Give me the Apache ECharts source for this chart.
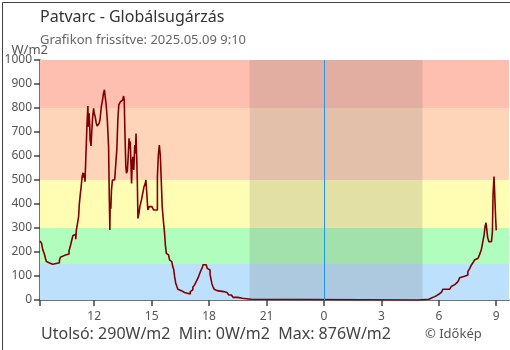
<!DOCTYPE html>
<html><head><meta charset="utf-8">
<script src="https://cdn.jsdelivr.net/npm/echarts@6/dist/echarts.min.js"></script>
<style>html,body{margin:0;padding:0;background:#fff}#c{width:510px;height:350px}</style>
</head><body><div id="c"></div><script>
const titleText = 'Patvarc - Globálsugárzás';
const subtitleText = 'Grafikon frissítve: 2025.05.09 9:10';
const unit = 'W/m2';
const times = ['09:10','09:15','09:19','09:23','09:27','09:30','09:35','09:42','09:50','09:56','10:11','10:14','10:20','10:27','10:41','10:46','10:49','10:53','10:58','11:02','11:04','11:07','11:11','11:13','11:16','11:19','11:22','11:25','11:27','11:29','11:31','11:33','11:37','11:40','11:42','11:44','11:46','11:47','11:50','11:52','11:55','11:58','12:00','12:03','12:06','12:09','12:12','12:15','12:18','12:22','12:26','12:29','12:32','12:34','12:37','12:41','12:45','12:47','12:49','12:50','12:52','12:54','12:57','13:04','13:07','13:11','13:14','13:17','13:22','13:25','13:29','13:32','13:34','13:36','13:39','13:41','13:44','13:47','13:49','13:51','13:53','13:55','13:57','13:59','14:01','14:04','14:07','14:09','14:11','14:13','14:15','14:17','14:20','14:23','14:28','14:32','14:36','14:40','14:42','14:44','14:48','14:50','14:52','14:55','14:57','15:01','15:06','15:18','15:21','15:24','15:27','15:30','15:33','15:37','15:40','15:43','15:46','15:49','15:53','15:56','15:59','16:03','16:06','16:09','16:12','16:15','16:19','16:22','16:26','16:33','16:38','16:43','17:01','17:05','17:09','17:14','17:18','17:22','17:26','17:30','17:34','17:39','17:41','17:51','17:54','17:59','18:03','18:06','18:09','18:12','18:16','18:20','18:25','18:46','18:49','18:52','18:56','19:02','19:10','19:15','19:30','19:44','20:12','04:55','05:29','05:37','05:47','05:54','06:01','06:08','06:13','06:34','06:39','06:44','06:50','06:57','07:02','07:05','07:11','07:21','07:31','07:37','07:42','07:47','07:52','07:58','08:03','08:08','08:13','08:18','08:22','08:25','08:28','08:30','08:33','08:37','08:45','08:48','08:50','08:53','08:55','08:58','09:00'];
const values = [246,236,208,195,174,160,153,149,150,155,167,178,186,192,205,229,246,268,274,253,292,315,347,396,437,472,514,530,510,528,493,567,722,808,722,778,720,669,642,697,761,799,778,764,739,725,730,735,750,805,833,861,876,850,819,750,639,444,292,403,380,458,500,507,556,632,750,813,826,833,840,850,833,708,556,528,540,611,674,632,660,569,486,569,597,542,646,611,694,597,500,340,361,389,417,444,472,486,500,458,375,378,389,396,389,382,375,514,604,646,604,500,389,326,285,229,194,188,181,167,160,153,139,128,97,72,56,45,39,35,31,25,35,42,53,62,72,83,94,108,122,136,147,142,132,125,108,86,67,56,45,39,35,37,35,31,25,21,17,11,7,3,0,3,8,14,19,25,32,37,45,47,56,64,72,75,81,93,99,104,118,132,146,155,167,174,181,190,208,243,271,306,322,299,261,243,239,285,438,514,451,344,290];
const xTickHours = [12,15,18,21,0,3,6,9];
const bandEdges = [0,150,300,500,800,1000];
const nightStart = '20:07';
const nightEnd = '05:09';
const rangeStart = '09:10';
const rangeEnd = '09:40';

const bandColors = ['#BDE0FD','#B0FDBD','#FFFDB4','#FFD5BA','#FFBFB0'];
const hm = t => { const [h, m] = t.split(':').map(Number); return h + m / 60; };
let off = -24, prev = -1;
const xs = times.map(t => { const v = hm(t); if (v < prev) off = 0; prev = v; return v + off; });
const seriesData = xs.map((x, i) => [x, values[i]]);
const xMin = hm(rangeStart) - 24, xMax = hm(rangeEnd);
const tickPos = xTickHours.map(h => h >= 9.5 ? h - 24 : h);
const last = values[values.length - 1], vmin = Math.min(...values), vmax = Math.max(...values);
const font = 'Noto Sans';

const chart = echarts.init(document.getElementById('c'), null, {renderer: 'canvas'});
chart.setOption({
  animation: false,
  backgroundColor: '#fff',
  textStyle: {fontFamily: font},
  title: {
    text: titleText, subtext: subtitleText, left: 40, top: 9, padding: 0, itemGap: 9,
    textStyle: {fontFamily: font, fontSize: 16, fontWeight: 'normal', color: '#333'},
    subtextStyle: {fontFamily: font, fontSize: 13, color: '#666'}
  },
  grid: {left: 40, right: 1, top: 60, bottom: 50, containLabel: false},
  xAxis: {
    type: 'value', min: xMin, max: xMax,
    splitLine: {show: false},
    axisLine: {onZero: false, lineStyle: {color: '#444', width: 1.5}},
    axisTick: {customValues: [xMin].concat(tickPos), length: 6, lineStyle: {color: '#444', width: 1.5}},
    axisLabel: {customValues: tickPos, margin: 11, fontSize: 12, color: '#555', fontFamily: font,
      formatter: v => String(Math.round((v + 24) % 24))}
  },
  yAxis: {
    type: 'value', min: 0, max: 1000, interval: 100,
    name: unit, nameLocation: 'end', nameGap: 3, nameMoveOverlap: false,
    nameTextStyle: {fontFamily: font, fontSize: 13, color: '#555', align: 'right', verticalAlign: 'bottom', padding: [0, -8, 0, 0]},
    splitLine: {show: false},
    axisLine: {show: true, onZero: false, lineStyle: {color: '#444', width: 1.5}},
    axisTick: {show: true, length: 6, lineStyle: {color: '#444', width: 1.5}},
    axisLabel: {fontSize: 12, color: '#555', margin: 8, fontFamily: font, formatter: v => String(v)}
  },
  series: [
    {type: 'line', data: [], z: 1, silent: true,
      markArea: {silent: true, data: bandEdges.slice(0, -1).map((b, i) => [
        {yAxis: b, itemStyle: {color: bandColors[i]}}, {yAxis: bandEdges[i + 1]}])}},
    {type: 'line', data: [], z: 2, silent: true,
      markArea: {silent: true, data: [[
        {xAxis: hm(nightStart) - 24, itemStyle: {color: 'rgba(100,100,100,0.19)'}}, {xAxis: hm(nightEnd)}]]},
      markLine: {silent: true, symbol: 'none', label: {show: false},
        lineStyle: {color: '#2196F3', width: 1, type: 'solid'}, data: [{xAxis: 0}]}},
    {type: 'line', data: seriesData, z: 3, step: 'end', showSymbol: false, symbol: 'none',
      lineStyle: {color: '#800000', width: 1.6}}
  ],
  graphic: [
    {type: 'text', left: 41, top: 326, style: {
      text: 'Utolsó: ' + last + unit + '  Min: ' + vmin + unit + '  Max: ' + vmax + unit,
      fontFamily: font, fontSize: 16, fill: '#444'}},
    {type: 'text', left: 425, top: 328, style: {text: '© Időkép', fontFamily: font, fontSize: 13, fill: '#555'}},
    {type: 'rect', left: 0, top: 0, silent: true, z: 100,
      shape: {x: 0.5, y: 0.5, width: 509, height: 349}, style: {fill: 'none', stroke: '#444', lineWidth: 1}}
  ]
});
</script></body></html>
